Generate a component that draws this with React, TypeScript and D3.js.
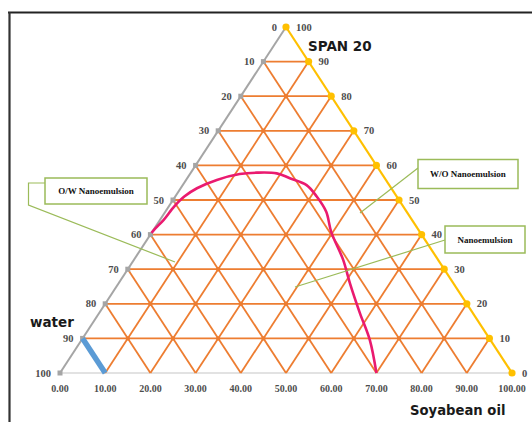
import React from "react";
import * as d3 from "d3";

// Ternary phase diagram: water / Soyabean oil / SPAN 20
const gridSteps = [0, 10, 20, 30, 40, 50, 60, 70, 80, 90, 100];
const waterTickLabels = ["0", "10", "20", "30", "40", "50", "60", "70", "80", "90", "100"];
const spanTickLabels = ["100", "90", "80", "70", "60", "50", "40", "30", "20", "10", "0"];
const oilTickLabels = ["0.00", "10.00", "20.00", "30.00", "40.00", "50.00", "60.00", "70.00", "80.00", "90.00", "100.00"];

// Phase boundary (oil %, SPAN 20 %)
const boundaryOil = [0, 0.2, 0.8, 1.2, 2.0, 3.6, 6.8, 11.0, 14.6, 19.1, 22.7, 27.4, 31.3, 35.6, 39.6, 46.3, 51.2, 57.7, 63.8, 70];
const boundarySpan = [40.5, 41.8, 44.2, 48.1, 51.0, 53.4, 55.8, 57.5, 57.9, 57.7, 56.3, 54.3, 51.0, 46.6, 40.8, 32.7, 25.9, 17.3, 9.5, 0];

// Water-rich segment on the base (oil %, SPAN 20 %)
const segmentOil = [0, 10];
const segmentSpan = [10, 0];

const W = 532;
const H = 422;

const xScale = d3.scaleLinear().domain([0, 100]).range([60, 512]);
const yScale = d3.scaleLinear().domain([0, 100]).range([373, 27]);

// composition (oil, span) -> pixel
const px = (oil: number, span: number) => xScale(oil + span / 2);
const py = (span: number) => yScale(span);

const ORANGE = "#ed7d31";
const GRAY = "#a5a5a5";
const YELLOW = "#ffc000";
const GREEN = "#9bbb59";

export default function App() {
  const lineGen = d3
    .line<[number, number]>()
    .x((d) => px(d[0], d[1]))
    .y((d) => py(d[1]));

  const boundary = boundaryOil.map((o, i) => [o, boundarySpan[i]] as [number, number]);
  const segment = segmentOil.map((o, i) => [o, segmentSpan[i]] as [number, number]);
  const smooth = d3
    .line<[number, number]>()
    .x((d) => px(d[0], d[1]))
    .y((d) => py(d[1]))
    .curve(d3.curveCatmullRom.alpha(0.5));

  const inner = gridSteps.slice(1, -1);

  const nodes: [number, number][] = [];
  inner.forEach((o) =>
    inner.forEach((s) => {
      if (o + s <= 90) nodes.push([o, s]);
    })
  );

  const tickFont = "'Liberation Serif', 'Times New Roman', serif";
  const sansBold = "'DejaVu Sans', Verdana, sans-serif";

  return (
    <svg
      width={W}
      height={H}
      style={{ position: "absolute", left: 0, top: 0, background: "#fff" }}
    >
      {/* frame */}
      <line x1={8} x2={W} y1={12.5} y2={12.5} stroke="#222" strokeWidth={2.2} />
      <line x1={9.5} x2={9.5} y1={12} y2={H} stroke="#333" strokeWidth={2.2} />

      {/* base axis */}
      <line x1={px(0, 0)} x2={px(100, 0)} y1={py(0)} y2={py(0)} stroke="#d9d9d9" strokeWidth={1.5} />

      {/* grid: constant SPAN 20 */}
      {inner.map((s) => (
        <path key={"h" + s} d={lineGen([[0, s], [100 - s, s]]) || ""} stroke={ORANGE} strokeWidth={1.8} fill="none" />
      ))}
      {/* grid: constant oil */}
      {inner.map((o) => (
        <path key={"o" + o} d={lineGen([[o, 0], [o, 100 - o]]) || ""} stroke={ORANGE} strokeWidth={1.8} fill="none" />
      ))}
      {/* grid: constant water */}
      {inner.map((w) => (
        <path key={"w" + w} d={lineGen([[100 - w, 0], [0, 100 - w]]) || ""} stroke={ORANGE} strokeWidth={1.8} fill="none" />
      ))}
      {nodes.map(([o, s]) => (
        <circle key={"n" + o + "-" + s} cx={px(o, s)} cy={py(s)} r={2.2} fill={ORANGE} />
      ))}

      {/* water edge */}
      <path d={lineGen([[0, 0], [0, 100]]) || ""} stroke={GRAY} strokeWidth={2} fill="none" />
      {gridSteps.map((s) => (
        <rect key={"g" + s} x={px(0, s) - 2.5} y={py(s) - 2.5} width={5} height={5} fill={GRAY} />
      ))}
      {/* SPAN 20 edge */}
      <path d={lineGen([[100, 0], [0, 100]]) || ""} stroke={YELLOW} strokeWidth={2.2} fill="none" />
      {gridSteps.map((s) => (
        <circle key={"y" + s} cx={px(100 - s, s)} cy={py(s)} r={3.6} fill={YELLOW} />
      ))}

      {/* water-rich segment */}
      <path d={lineGen(segment) || ""} stroke="#5b9bd5" strokeWidth={5.5} fill="none" />

      {/* phase boundary */}
      <path d={smooth(boundary) || ""} stroke="#ea1a6f" strokeWidth={2.6} fill="none" strokeLinejoin="round" />

      {/* tick labels */}
      {gridSteps.map((s, i) => (
        <text
          key={"lw" + s}
          x={px(0, 100 - s) - 9}
          y={py(100 - s) + 3.5}
          textAnchor="end"
          fontFamily={tickFont}
          fontSize={10.5}
          fontWeight="bold"
          fill="#4d4d4d"
        >
          {waterTickLabels[i]}
        </text>
      ))}
      {gridSteps.map((s, i) => (
        <text
          key={"ls" + s}
          x={px(s, 100 - s) + 10}
          y={py(100 - s) + 3.5}
          textAnchor="start"
          fontFamily={tickFont}
          fontSize={10.5}
          fontWeight="bold"
          fill="#4d4d4d"
        >
          {spanTickLabels[i]}
        </text>
      ))}
      {gridSteps.map((o, i) => (
        <text
          key={"lo" + o}
          x={px(o, 0)}
          y={392}
          textAnchor="middle"
          fontFamily={tickFont}
          fontSize={10}
          fontWeight="bold"
          fill="#4d4d4d"
        >
          {oilTickLabels[i]}
        </text>
      ))}

      {/* axis titles */}
      <text x={30} y={327} fontFamily={sansBold} fontWeight="bold" fontSize={13.5} fill="#1a1a1a">
        water
      </text>
      <text x={308} y={51} fontFamily={sansBold} fontWeight="bold" fontSize={13.5} fill="#1a1a1a">
        SPAN 20
      </text>
      <text x={410} y={415} fontFamily={sansBold} fontWeight="bold" fontSize={13.2} fill="#1a1a1a">
        Soyabean oil
      </text>

      {/* callouts */}
      <polyline points="45,183 28.5,183 28.5,205 175,262" fill="none" stroke={GREEN} strokeWidth={1.2} />
      <rect x={45} y={178} width={102} height={26} fill="#fff" stroke={GREEN} strokeWidth={1.5} />
      <text x={96} y={194} textAnchor="middle" fontFamily={tickFont} fontWeight="bold" fontSize={9} fill="#111">
        O/W Nanoemulsion
      </text>

      <line x1={418} y1={168} x2={360} y2={213} stroke={GREEN} strokeWidth={1.2} />
      <rect x={418} y={159.5} width={100} height={29} fill="#fff" stroke={GREEN} strokeWidth={1.5} />
      <text x={468} y={177} textAnchor="middle" fontFamily={tickFont} fontWeight="bold" fontSize={9} fill="#111">
        W/O Nanoemulsion
      </text>

      <line x1={445} y1={240} x2={295} y2={287} stroke={GREEN} strokeWidth={1.2} />
      <rect x={445} y={226} width={80} height={27} fill="#fff" stroke={GREEN} strokeWidth={1.5} />
      <text x={485} y={243} textAnchor="middle" fontFamily={tickFont} fontWeight="bold" fontSize={9} fill="#111">
        Nanoemulsion
      </text>
    </svg>
  );
}
